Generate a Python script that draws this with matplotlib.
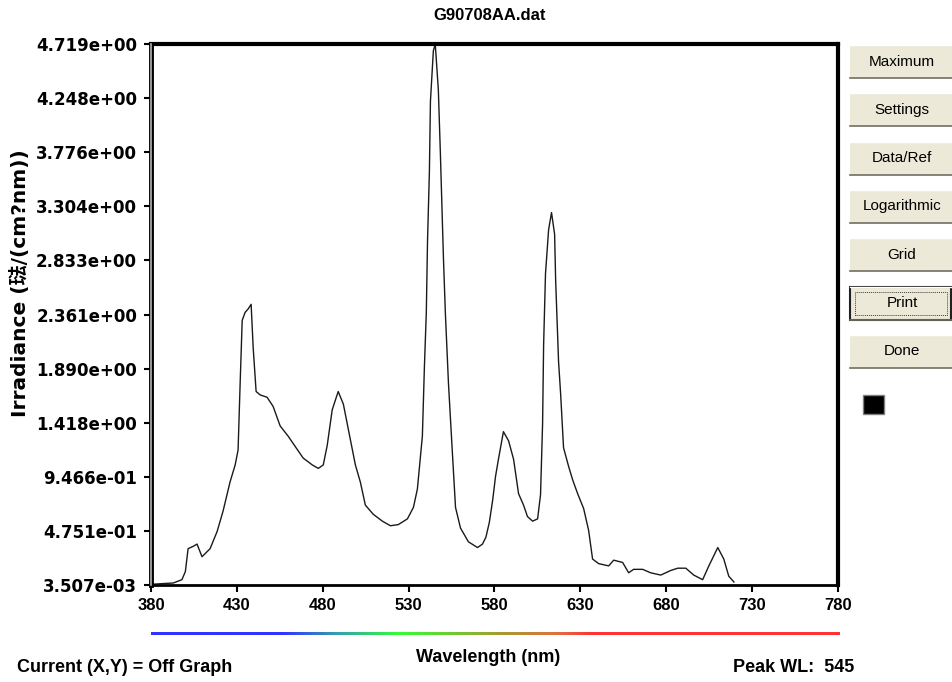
import matplotlib
matplotlib.use("Agg")
import matplotlib.pyplot as plt
import numpy as np
from matplotlib.patches import Rectangle
from matplotlib.colors import LinearSegmentedColormap

# spectrum (nm, irradiance)
wavelength = [380.5, 386, 393, 398, 400, 401.6, 404.5, 406.8, 409.7, 414.4,
              418.5, 422, 426, 429, 430.7, 431.9, 433.1, 434.8, 436.6, 438.3,
              439.5, 441.2, 443.6, 447.6, 451.1, 455.2, 459.9, 464, 468.6, 473.9,
              477.4, 480.3, 482.6, 485.5, 489, 492, 494.9, 499, 501.9, 504.8,
              509.4, 514.7, 519.4, 524, 529.3, 532.8, 535.1, 538, 539.2, 540.3,
              541, 542.1, 542.7, 544.4, 545.5, 547.3, 548.5, 550.3, 551.4, 553.2,
              555.5, 557.3, 560.2, 564.8, 570.1, 573, 575, 577, 579, 580.6,
              582.3, 585.2, 588.2, 591.1, 594, 596.9, 599.2, 602.2, 605.1, 606.8,
              608, 608.6, 609.7, 611.5, 613.2, 615, 615.6, 617.3, 618.5, 620.2,
              623.1, 625.5, 628.4, 631.9, 634.8, 637.1, 640.6, 646.5, 649.4, 652,
              654.6, 658.1, 661, 666.3, 670.9, 676.8, 682.6, 686.7, 691.4, 696,
              701.2, 704.8, 710, 713.5, 716.4, 719.4]
irradiance = [0.01, 0.015, 0.021, 0.05, 0.12, 0.32, 0.34, 0.36, 0.25, 0.32,
              0.47, 0.65, 0.90, 1.05, 1.18, 1.76, 2.31, 2.38, 2.41, 2.45,
              2.07, 1.69, 1.66, 1.64, 1.56, 1.39, 1.30, 1.21, 1.11, 1.05,
              1.02, 1.05, 1.22, 1.53, 1.69, 1.58, 1.36, 1.05, 0.90, 0.70,
              0.62, 0.56, 0.52, 0.53, 0.58, 0.68, 0.84, 1.30, 1.91, 2.38,
              3.00, 3.61, 4.22, 4.66, 4.719, 4.32, 3.76, 2.84, 2.37, 1.76,
              1.15, 0.68, 0.50, 0.38, 0.33, 0.36, 0.42, 0.55, 0.75, 0.95,
              1.10, 1.34, 1.26, 1.10, 0.80, 0.70, 0.60, 0.56, 0.58, 0.79,
              1.41, 2.10, 2.72, 3.10, 3.25, 3.06, 2.66, 1.95, 1.67, 1.20,
              1.04, 0.92, 0.80, 0.67, 0.48, 0.23, 0.19, 0.17, 0.22, 0.21,
              0.20, 0.11, 0.14, 0.14, 0.11, 0.09, 0.13, 0.15, 0.15, 0.09,
              0.05, 0.17, 0.33, 0.23, 0.08, 0.03]

x_ticks = [380, 430, 480, 530, 580, 630, 680, 730, 780]
y_tick_labels = ["3.507e-03", "4.751e-01", "9.466e-01", "1.418e+00", "1.890e+00",
                 "2.361e+00", "2.833e+00", "3.304e+00", "3.776e+00", "4.248e+00",
                 "4.719e+00"]
buttons = ["Maximum", "Settings", "Data/Ref", "Logarithmic", "Grid", "Print", "Done"]

W, H = 952, 682
fig = plt.figure(figsize=(W / 100, H / 100), dpi=100)
fig.patch.set_facecolor("white")


def fx(x):
    return x / W


def fy(y):
    return 1 - y / H


ax = fig.add_axes([fx(151), fy(585), fx(838) - fx(151), fy(44) - fy(585)])
ax.plot(wavelength, irradiance, color="#1a1a1a", lw=1.0)
ax.set_xlim(380, 780)
ax.set_ylim(float(y_tick_labels[0]), float(y_tick_labels[-1]))
ax.set_xticks(x_ticks)
ax.set_xticklabels([str(t) for t in x_ticks], fontfamily="Liberation Sans",
                   fontweight="bold", fontsize=12)
ax.set_yticks([float(s) for s in y_tick_labels])
ax.set_yticklabels(y_tick_labels, fontfamily="DejaVu Sans", fontweight="bold", fontsize=12)
ax.tick_params(axis="both", direction="out", length=5, width=1.5, color="black")
ax.tick_params(axis="x", pad=4)
ax.tick_params(axis="y", pad=5)
for side, lw in [("top", 3), ("right", 3), ("bottom", 2), ("left", 3.5)]:
    ax.spines[side].set_linewidth(lw)
    ax.spines[side].set_color("black")
ax.axvline(380, color="#b4b4b4", lw=1.2, zorder=3, clip_on=False)

fig.text(fx(490), fy(16), "G90708AA.dat", ha="center", va="center",
         fontfamily="Liberation Sans", fontweight="bold", fontsize=12)
fig.text(fx(20), fy(283), "Irradiance (琺/(cm?nm))", rotation=90, ha="center", va="center",
         fontfamily=["DejaVu Sans", "Noto Sans CJK SC"], fontweight="bold", fontsize=14.5)
fig.text(fx(488), fy(657), "Wavelength (nm)", ha="center", va="center",
         fontfamily="Liberation Sans", fontweight="bold", fontsize=13)
fig.text(fx(17), fy(668), "Current (X,Y) = Off Graph", ha="left", va="center",
         fontfamily="Liberation Sans", fontweight="bold", fontsize=13)
fig.text(fx(733), fy(668), "Peak WL:  545", ha="left", va="center",
         fontfamily="Liberation Sans", fontweight="bold", fontsize=13)

# spectrum colour strip under the axis
stops = [(0.0, "#3333ff"), (0.19, "#3333ff"), (0.27, "#33a0b0"), (0.36, "#33ff33"),
         (0.50, "#a0a030"), (0.59, "#e07040"), (0.64, "#ff3333"), (1.0, "#ff3333")]
cmap = LinearSegmentedColormap.from_list("spec", stops)
bar = fig.add_axes([fx(151), fy(635), fx(840) - fx(151), fy(632) - fy(635)])
bar.imshow(np.linspace(0, 1, 512)[None, :], aspect="auto", cmap=cmap)
bar.set_axis_off()

# side buttons
for i, name in enumerate(buttons):
    top = 45 + i * 48.3
    bot = top + 33
    fig.add_artist(Rectangle((fx(850), fy(bot)), fx(952) - fx(850), fy(top) - fy(bot),
                             transform=fig.transFigure, facecolor="#ece9d8",
                             edgecolor="none"))
    fig.add_artist(plt.Line2D([fx(850), fx(952)], [fy(bot), fy(bot)],
                              transform=fig.transFigure, color="#716f64", lw=1.2))
    fig.add_artist(plt.Line2D([fx(850), fx(952)], [fy(top), fy(top)],
                              transform=fig.transFigure, color="white", lw=1))
    if name == "Print":
        fig.add_artist(Rectangle((fx(850), fy(bot)), fx(951) - fx(850), fy(top) - fy(bot),
                                 transform=fig.transFigure, facecolor="none",
                                 edgecolor="#202020", lw=1.5))
        fig.add_artist(Rectangle((fx(855), fy(bot - 5)), fx(947) - fx(855),
                                 fy(top + 5) - fy(bot - 5),
                                 transform=fig.transFigure, facecolor="none",
                                 edgecolor="#404040", lw=0.7, linestyle=(0, (1, 1))))
    fig.text(fx(902), fy((top + bot) / 2), name, ha="center", va="center",
             fontfamily="Liberation Sans", fontsize=11, color="black")

fig.add_artist(Rectangle((fx(863), fy(414)), fx(884) - fx(863), fy(395) - fy(414),
                         transform=fig.transFigure, facecolor="black",
                         edgecolor="#808080", lw=1))

fig.savefig("out.png", dpi=100)
